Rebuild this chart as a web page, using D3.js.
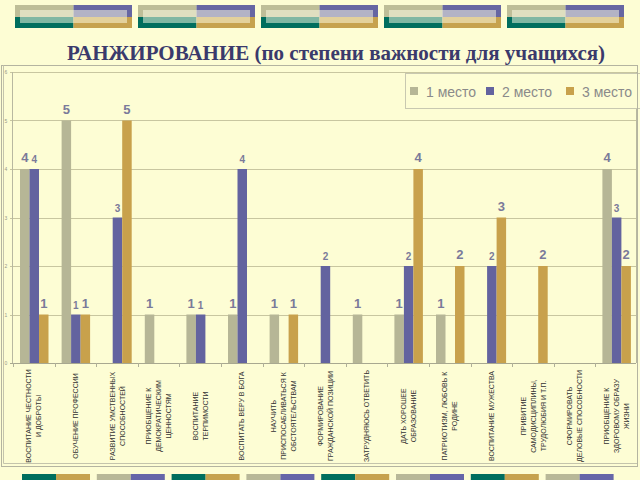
<!DOCTYPE html>
<html><head><meta charset="utf-8">
<script src="https://cdn.jsdelivr.net/npm/d3@7"></script>
<style>
html,body{margin:0;padding:0;background:#fdfdd4;}
svg{display:block;}
</style></head>
<body>
<svg id="c" width="640" height="480"></svg>
<script>
const titleText = "РАНЖИРОВАНИЕ (по степени важности для учащихся)";
const seriesNames = ["1 место", "2 место", "3 место"];
const seriesColors = ["#b6b696", "#63639f", "#c8a14c"];
const categories = [
  ["ВОСПИТАНИЕ ЧЕСТНОСТИ", "И ДОБРОТЫ"],
  ["ОБУЧЕНИЕ ПРОФЕССИИ"],
  ["РАЗВИТИЕ УМСТВЕННЫХ", "СПОСОБНОСТЕЙ"],
  ["ПРИОБЩЕНИЕ К", "ДЕМОКРАТИЧЕСКИМ", "ЦЕННОСТЯМ"],
  ["ВОСПИТАНИЕ", "ТЕРПИМОСТИ"],
  ["ВОСПИТАТЬ ВЕРУ В БОГА"],
  ["НАУЧИТЬ", "ПРИСПОСАБЛИВАТЬСЯ К", "ОБСТОЯТЕЛЬСТВАМ"],
  ["ФОРМИРОВАНИЕ", "ГРАЖДАНСКОЙ ПОЗИЦИИ"],
  ["ЗАТРУДНЯЮСЬ ОТВЕТИТЬ"],
  ["ДАТЬ ХОРОШЕЕ", "ОБРАЗОВАНИЕ"],
  ["ПАТРИОТИЗМ, ЛЮБОВЬ К", "РОДИНЕ"],
  ["ВОСПИТАНИЕ МУЖЕСТВА"],
  ["ПРИВИТИЕ", "САМОДИСЦИПЛИНЫ,", "ТРУДОЛЮБИЯ И Т.П."],
  ["СФОРМИРОВАТЬ", "ДЕЛОВЫЕ СПОСОБНОСТИ"],
  ["ПРИОБЩЕНИЕ К", "ЗДОРОВОМУ ОБРАЗУ", "ЖИЗНИ"]
];
const place1 = [4, 5, 0, 1, 1, 1, 1, 0, 1, 1, 1, 0, 0, 0, 4];
const place2 = [4, 1, 3, 0, 1, 4, 0, 2, 0, 2, 0, 2, 0, 0, 3];
const place3 = [1, 1, 5, 0, 0, 0, 1, 0, 0, 4, 2, 3, 2, 0, 2];
const yTicks = [0, 1, 2, 3, 4, 5, 6];

const series = [place1, place2, place3];
const svg = d3.select("#c");
const bg = "#fdfdd4";

// header decorative blocks
const hdr = d3.range(5);
const hx = d3.scaleLinear().domain([0, 1]).range([15, 138]);
hdr.forEach(i => {
  const g = svg.append("g").attr("transform", `translate(${hx(i)},5)`);
  g.append("rect").attr("x", 0).attr("y", 0).attr("width", 58.5).attr("height", 12).attr("fill", "#bebe98");
  g.append("rect").attr("x", 0).attr("y", 12).attr("width", 58.5).attr("height", 11).attr("fill", "#006e5e");
  g.append("rect").attr("x", 58.5).attr("y", 0).attr("width", 58.5).attr("height", 12).attr("fill", "#6666a2");
  g.append("rect").attr("x", 58.5).attr("y", 12).attr("width", 58.5).attr("height", 11).attr("fill", "#c6a24e");
  g.append("rect").attr("x", 5).attr("y", 5).attr("width", 107).attr("height", 13).attr("fill", "#ffffe8").attr("opacity", 0.5);
});

// footer blocks
const ftr = d3.range(8);
const fx = d3.scaleLinear().domain([0, 1]).range([22, 96.8]);
ftr.forEach(i => {
  const c = i % 2 === 0 ? ["#006e5e", "#c6a24e"] : ["#b8b898", "#6666a8"];
  svg.append("rect").attr("x", fx(i)).attr("y", 474).attr("width", 34).attr("height", 8).attr("fill", c[0]);
  svg.append("rect").attr("x", fx(i) + 34).attr("y", 474).attr("width", 34).attr("height", 8).attr("fill", c[1]);
});

// title
svg.append("text").attr("x", 336).attr("y", 60).attr("text-anchor", "middle")
  .attr("font-family", "'Liberation Serif','Times New Roman',serif").attr("font-weight", "bold")
  .attr("font-size", 21).attr("fill", "#3a3a6c").text(titleText);

// outer frame
svg.append("rect").attr("x", 1.5).attr("y", 65.5).attr("width", 636).attr("height", 401)
  .attr("fill", bg).attr("stroke", "#b4b4a0").attr("stroke-width", 1);
svg.append("path").attr("d", "M3.5,65.5V463.5H637.5").attr("fill", "none").attr("stroke", "#c4c4ac");

// scales
const x0 = d3.scaleBand().domain(d3.range(categories.length)).range([13, 637]);
const x1 = d3.scaleBand().domain([0, 1, 2]).range([7, 35.5]);
const y = d3.scaleLinear().domain([0, 6]).range([363, 72]);

// plot border / grid
svg.append("g").selectAll("line").data(yTicks).join("line")
  .attr("x1", 10).attr("x2", 636).attr("y1", d => Math.round(y(d)) + 0.5).attr("y2", d => Math.round(y(d)) + 0.5)
  .attr("stroke", d => d === 0 ? "#a8a890" : "#c8c6a0").attr("stroke-width", 1);
svg.append("line").attr("x1", 12.5).attr("x2", 12.5).attr("y1", 72).attr("y2", 363).attr("stroke", "#b8b8a0");
svg.append("line").attr("x1", 636.5).attr("x2", 636.5).attr("y1", 72).attr("y2", 363).attr("stroke", "#b8b8a0");

// y tick labels
svg.append("g").selectAll("text").data(yTicks).join("text")
  .attr("x", 6).attr("y", d => y(d) + 2).attr("text-anchor", "middle")
  .attr("font-family", "'Liberation Sans',Arial,sans-serif").attr("font-size", 5).attr("fill", "#999988")
  .text(d => d);

// x ticks
svg.append("g").selectAll("line").data(d3.range(categories.length + 1)).join("line")
  .attr("x1", d => Math.round(13 + d * x0.step()) + 0.5).attr("x2", d => Math.round(13 + d * x0.step()) + 0.5)
  .attr("y1", 363).attr("y2", 367).attr("stroke", "#b0b098");

// bars
const gCat = svg.append("g").selectAll("g").data(d3.range(categories.length)).join("g")
  .attr("transform", d => `translate(${x0(d)},0)`);
gCat.selectAll("rect").data(ci => series.map((s, si) => ({si, v: s[ci]})).filter(d => d.v > 0)).join("rect")
  .attr("x", d => x1(d.si)).attr("width", x1.bandwidth())
  .attr("y", d => y(d.v)).attr("height", d => y(0) - y(d.v))
  .attr("fill", d => seriesColors[d.si]);
gCat.selectAll("text").data(ci => series.map((s, si) => ({si, v: s[ci]})).filter(d => d.v > 0)).join("text")
  .attr("x", d => x1(d.si) + x1.bandwidth() / 2)
  .attr("y", d => y(d.v) - (d.si === 1 ? 6 : 7))
  .attr("text-anchor", "middle")
  .attr("font-family", "'Liberation Sans',Arial,sans-serif").attr("font-weight", "bold")
  .attr("font-size", d => d.si === 1 ? 10 : 13).attr("fill", "#7a7a9a")
  .text(d => d.v);

// category labels
const gLab = svg.append("g").selectAll("g").data(categories).join("g")
  .attr("transform", (d, i) => `translate(${x0(i) + x0.bandwidth() / 2},416) rotate(-90)`);
gLab.each(function(lines) {
  const t = d3.select(this).append("text").attr("text-anchor", "middle")
    .attr("font-family", "'Liberation Sans',Arial,sans-serif").attr("font-size", 7).attr("fill", "#333333");
  lines.forEach((ln, i) => {
    t.append("tspan").attr("x", 0).attr("y", (i - (lines.length - 1) / 2) * 10 + 2.5).text(ln);
  });
});

// legend
const lg = svg.append("g");
lg.append("rect").attr("x", 405.5).attr("y", 73.5).attr("width", 240).attr("height", 35)
  .attr("fill", bg).attr("stroke", "#c8c8b0");
const lx = [410, 486, 566];
seriesNames.forEach((n, i) => {
  lg.append("rect").attr("x", lx[i]).attr("y", 87).attr("width", 8).attr("height", 8).attr("fill", seriesColors[i]);
  lg.append("text").attr("x", lx[i] + 16).attr("y", 97)
    .attr("font-family", "'Liberation Sans',Arial,sans-serif").attr("font-size", 14).attr("fill", "#8a8a8a").text(n);
});
svg.append("line").attr("x1", 637.5).attr("x2", 637.5).attr("y1", 65).attr("y2", 466).attr("stroke", "#b4b4a0");
</script>
</body></html>
